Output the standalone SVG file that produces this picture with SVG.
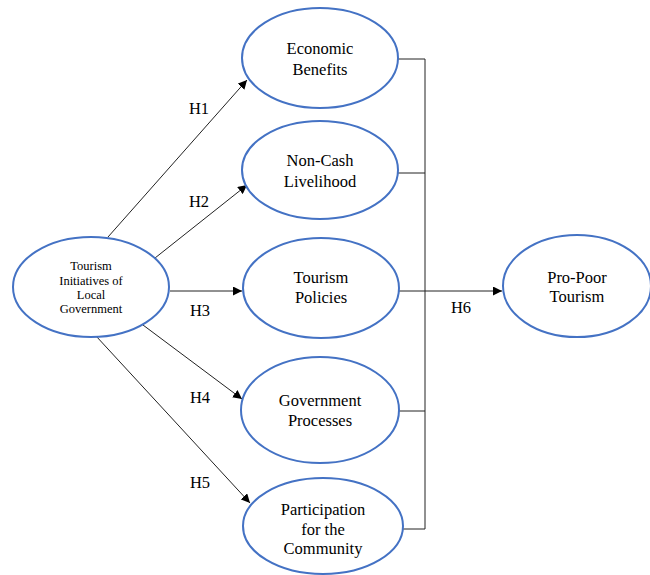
<svg xmlns="http://www.w3.org/2000/svg" width="650" height="575" viewBox="0 0 650 575">
<style>
.n{fill:#fff;stroke:#4472C4;stroke-width:2}
.t{font-family:'Liberation Serif','Times New Roman','DejaVu Serif',serif;font-size:16.5px;fill:#000;text-anchor:middle}
.s{font-family:'Liberation Serif','Times New Roman','DejaVu Serif',serif;font-size:12.5px;fill:#000;text-anchor:middle}
.c{stroke:#222;stroke-width:1;fill:none}
</style>
<defs>
<marker id="a" viewBox="0 0 10 10" refX="10" refY="5" markerWidth="9" markerHeight="9" markerUnits="userSpaceOnUse" orient="auto">
<path d="M0,0 L10,5 L0,10 z" fill="#000"/>
</marker>
</defs>
<rect width="650" height="575" fill="#fff"/>
<g id="connectors">
<line class="c" x1="108" y1="237" x2="247" y2="80" marker-end="url(#a)"/>
<line class="c" x1="155" y1="258" x2="247" y2="185" marker-end="url(#a)"/>
<line class="c" x1="170" y1="291" x2="242" y2="291" marker-end="url(#a)"/>
<line class="c" x1="143" y1="325" x2="242" y2="399" marker-end="url(#a)"/>
<line class="c" x1="96" y1="336" x2="250" y2="503" marker-end="url(#a)"/>
<polyline class="c" points="398,59 425,59 425,529 403,529"/>
<line class="c" x1="398" y1="173" x2="425" y2="173"/>
<line class="c" x1="399" y1="411" x2="425" y2="411"/>
<line class="c" x1="399" y1="291" x2="502" y2="291" marker-end="url(#a)"/>
<text class="t" x="199" y="114">H1</text>
<text class="t" x="199" y="207">H2</text>
<text class="t" x="200" y="316">H3</text>
<text class="t" x="200" y="403">H4</text>
<text class="t" x="200" y="488">H5</text>
<text class="t" x="461" y="313">H6</text>
</g>
<g id="tourism-initiatives">
<ellipse class="n" cx="91" cy="287" rx="78" ry="50"/>
<text class="s" x="91" y="270">Tourism</text>
<text class="s" x="91" y="285">Initiatives of</text>
<text class="s" x="91" y="299">Local</text>
<text class="s" x="91" y="313">Government</text>
</g>
<g id="economic-benefits">
<ellipse class="n" cx="320" cy="58" rx="78" ry="50"/>
<text class="t" x="320" y="54">Economic</text>
<text class="t" x="320" y="75">Benefits</text>
</g>
<g id="non-cash-livelihood">
<ellipse class="n" cx="320" cy="170" rx="78" ry="49"/>
<text class="t" x="320" y="166">Non-Cash</text>
<text class="t" x="320" y="187">Livelihood</text>
</g>
<g id="tourism-policies">
<ellipse class="n" cx="321" cy="288" rx="78" ry="50"/>
<text class="t" x="321" y="283">Tourism</text>
<text class="t" x="321" y="303">Policies</text>
</g>
<g id="government-processes">
<ellipse class="n" cx="320" cy="410" rx="79" ry="53"/>
<text class="t" x="320" y="406">Government</text>
<text class="t" x="320" y="426">Processes</text>
</g>
<g id="participation">
<ellipse class="n" cx="323" cy="526" rx="80" ry="48"/>
<text class="t" x="323" y="515">Participation</text>
<text class="t" x="323" y="535">for the</text>
<text class="t" x="323" y="554">Community</text>
</g>
<g id="pro-poor-tourism">
<ellipse class="n" cx="577" cy="286" rx="74" ry="51"/>
<text class="t" x="577" y="283">Pro-Poor</text>
<text class="t" x="577" y="302">Tourism</text>
</g>
</svg>
